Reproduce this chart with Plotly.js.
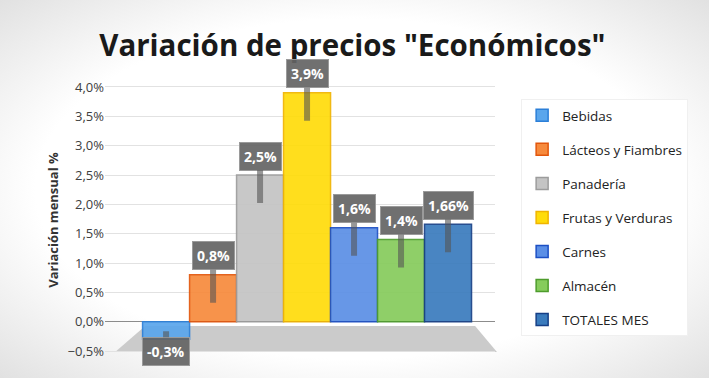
<!DOCTYPE html>
<html>
<head>
<meta charset="utf-8">
<script src="https://cdn.plot.ly/plotly-3.0.1.min.js"></script>
<style>
html,body{margin:0;padding:0;}
body{width:709px;height:378px;overflow:hidden;
background:radial-gradient(ellipse 75% 75% at 50% 50%, #ffffff 60%, #dcdcdc 100%);}
#chart{width:709px;height:378px;}
</style>
</head>
<body>
<div id="chart"></div>
<script>
// Data
const categories = ["Bebidas", "Lácteos y Fiambres", "Panadería", "Frutas y Verduras", "Carnes", "Almacén", "TOTALES MES"];
const values = [-0.3, 0.8, 2.5, 3.9, 1.6, 1.4, 1.66];
const labels = ["-0,3%", "0,8%", "2,5%", "3,9%", "1,6%", "1,4%", "1,66%"];
const fillColors = ["#5aa6ec", "#f78a3c", "#c4c4c4", "#ffdc0a", "#5b8fe6", "#86cc5c", "#3a7bbd"];
const edgeColors = ["#2b7fd8", "#e2560c", "#9c9c9c", "#f0b400", "#1c4fc4", "#4e9c2c", "#163f86"];

const traces = categories.map((c, i) => ({
  type: "bar",
  name: c,
  x: [c],
  y: [values[i]],
  legendgroup: "g" + i,
  marker: {color: fillColors[i], opacity: 0.92, line: {color: edgeColors[i], width: 1.5}},
  hoverinfo: "skip"
}));

const annotations = categories.map((c, i) => {
  const neg = values[i] < 0;
  return {
    x: c, y: values[i], xref: "x", yref: "y",
    text: "<b>" + labels[i] + "</b>",
    showarrow: true, arrowhead: 0, arrowwidth: 6,
    arrowcolor: "rgba(85,85,85,0.6)",
    ax: 0, ay: neg ? 20 : -47,
    yshift: neg ? 8 : -28,
    bgcolor: "rgba(100,100,100,0.92)",
    bordercolor: "#9a9a9a", borderwidth: 1, borderpad: 4,
    font: {family: "Open Sans", size: 14, color: "#ffffff"}
  };
});

const layout = {
  width: 709, height: 378,
  paper_bgcolor: "rgba(0,0,0,0)",
  plot_bgcolor: "rgba(0,0,0,0)",
  margin: {l: 105, r: 214, t: 80, b: 18},
  separators: ",.",
  title: {
    text: "<b>Variación de precios \"Económicos\"</b>",
    font: {family: "Open Sans", size: 29.5, color: "#1a1a1a"},
    x: 0.497, xref: "container", xanchor: "center",
    y: 0.88, yref: "container", yanchor: "middle"
  },
  barmode: "overlay",
  bargap: 0,
  showlegend: true,
  legend: {
    x: 1.067, xanchor: "left", y: 0.932, yanchor: "top",
    bgcolor: "#ffffff", bordercolor: "#f0f0f0", borderwidth: 1,
    font: {family: "Open Sans", size: 13.5, color: "#222222"},
    tracegroupgap: 13.5, traceorder: "grouped", itemwidth: 30
  },
  xaxis: {
    type: "category", categoryorder: "array", categoryarray: categories,
    range: [-1.3, 7.0], showticklabels: false, showgrid: false,
    zeroline: false, showline: false, ticks: "", fixedrange: true
  },
  yaxis: {
    range: [-0.653, 4.119], dtick: 0.5, tick0: 0,
    tickformat: ".1f", ticksuffix: "%",
    tickfont: {family: "Open Sans", size: 13, color: "#404040"},
    gridcolor: "#e2e2e2", gridwidth: 1,
    zeroline: true, zerolinecolor: "#8c8c8c", zerolinewidth: 1.5,
    showline: false, ticks: "",
    title: {text: "<b>Variación mensual %</b>", standoff: 6,
            font: {family: "Open Sans", size: 13, color: "#333333"}}
  },
  shapes: [{
    type: "path", xref: "paper", yref: "paper", layer: "below",
    path: "M 0.026 0.029 L 0.103 0.121 L 0.949 0.121 L 1.005 0.029 Z",
    fillcolor: "#cbcbcb", line: {width: 0}
  }],
  annotations: annotations
};

Plotly.newPlot("chart", traces, layout, {displayModeBar: false, staticPlot: true});
</script>
</body>
</html>
